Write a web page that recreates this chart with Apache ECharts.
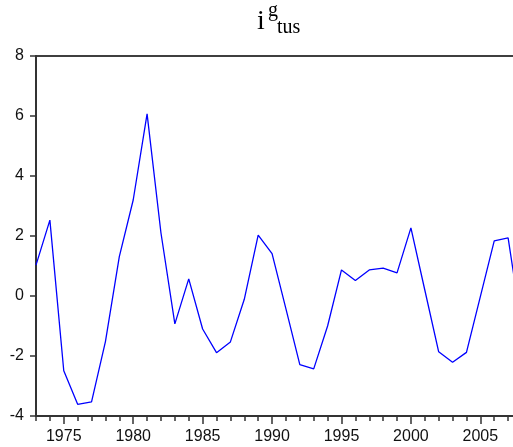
<!DOCTYPE html>
<html>
<head>
<meta charset="utf-8">
<script src="https://cdn.jsdelivr.net/npm/echarts@6/dist/echarts.min.js"></script>
<style>
html,body{margin:0;padding:0;overflow:hidden;background:#fff;}
#c{width:540px;height:447px;}
</style>
</head>
<body>
<div id="c"></div>
<script>
const years = [1973,1974,1975,1976,1977,1978,1979,1980,1981,1982,1983,1984,1985,1986,1987,1988,1989,1990,1991,1992,1993,1994,1995,1996,1997,1998,1999,2000,2001,2002,2003,2004,2005,2006,2007,2008];
const values = [1.03,2.53,-2.49,-3.61,-3.53,-1.52,1.31,3.2,6.07,2.1,-0.93,0.57,-1.1,-1.89,-1.53,-0.11,2.03,1.41,-0.43,-2.29,-2.43,-1.0,0.87,0.52,0.87,0.93,0.77,2.27,0.2,-1.86,-2.21,-1.88,-0.02,1.84,1.94,-1.1];
const yTicks = [-4,-2,0,2,4,6,8];
const titleMain = 'i', titleSup = 'g', titleSub = 'tus';

const chart = echarts.init(document.getElementById('c'));
const cats = years.map(String);
chart.setOption({
  animation:false,
  grid:{left:36,top:56,right:18,bottom:31,show:true,borderColor:'#000',borderWidth:1.5,backgroundColor:'transparent'},
  graphic:[
    {type:'text',left:257,top:8,style:{text:titleMain,font:'28px "Liberation Serif"',fill:'#000'}},
    {type:'text',left:268,top:1,style:{text:titleSup,font:'20px "Liberation Serif"',fill:'#000'}},
    {type:'text',left:277,top:18,style:{text:titleSub,font:'20px "Liberation Serif"',fill:'#000'}}
  ],
  xAxis:[{
    type:'category',data:cats,boundaryGap:false,
    axisLine:{onZero:false,lineStyle:{color:'#333',width:2}},
    axisTick:{show:true,interval:0,length:5,lineStyle:{color:'#333',width:1.5}},
    axisLabel:{interval:(i,v)=>(+v)%5===0,color:'#111',fontSize:16,fontFamily:'"Liberation Sans"',margin:13},
    splitLine:{show:false}
  },{
    type:'category',data:cats,boundaryGap:false,position:'bottom',
    axisLine:{show:false,onZero:false},
    axisTick:{show:true,interval:(i,v)=>(+v)%5===0,length:8,lineStyle:{color:'#333',width:1.5}},
    axisLabel:{show:false},splitLine:{show:false}
  }],
  yAxis:{
    type:'value',min:yTicks[0],max:yTicks[yTicks.length-1],interval:2,
    axisLine:{show:true,onZero:false,lineStyle:{color:'#333',width:2}},
    axisTick:{show:true,length:6,lineStyle:{color:'#333',width:1.5}},
    axisLabel:{color:'#111',fontSize:16,fontFamily:'"Liberation Sans"',margin:12},
    splitLine:{show:false}
  },
  series:[{
    type:'line',data:values,xAxisIndex:0,showSymbol:false,symbol:'none',
    lineStyle:{color:'#0000ff',width:1.3},clip:true
  }]
});
</script>
</body>
</html>
